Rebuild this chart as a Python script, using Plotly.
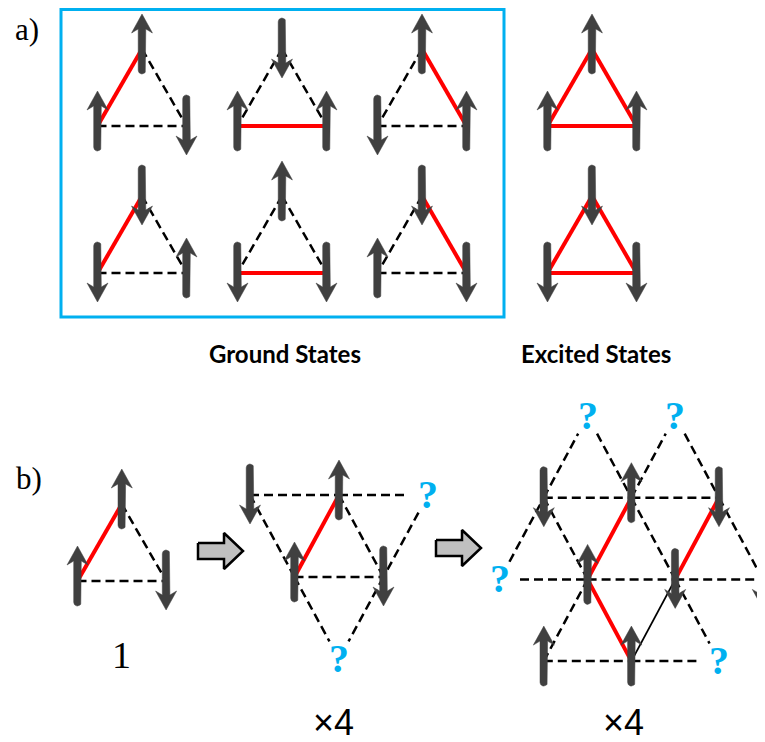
import math
import plotly.graph_objects as go

# ---------------- data ----------------
UP, DOWN, UNK = 1, -1, 0

# a) spins at [top, bottom-left, bottom-right] of each triangle
ground_row1 = [[UP, UP, DOWN], [DOWN, UP, UP], [UP, DOWN, UP]]
ground_row2 = [[DOWN, DOWN, UP], [UP, DOWN, DOWN], [DOWN, UP, DOWN]]
excited_spins = [[UP, UP, UP], [DOWN, DOWN, DOWN]]
triangle_sites = [(1, 0), (0, 1), (2, 1)]          # (half-column, row)
triangle_bonds = [(0, 1), (0, 2), (1, 2)]

# b) sites as (half-column, row, spin)
single_sites = [(1, 0, UP), (0, 1, UP), (2, 1, DOWN)]
single_bonds = [(0, 1), (0, 2), (1, 2)]

middle_sites = [(0, 0, DOWN), (2, 0, UP), (4, 0, UNK),
                (1, 1, UP), (3, 1, DOWN), (2, 2, UNK)]
middle_bonds = [(0, 1), (1, 2), (3, 4), (0, 3), (3, 5), (2, 4), (4, 5), (1, 3), (1, 4)]

lattice_sites = [(2, 0, UNK), (4, 0, UNK),
                 (1, 1, DOWN), (3, 1, UP), (5, 1, DOWN),
                 (0, 2, UNK), (2, 2, UP), (4, 2, DOWN), (6, 2, DOWN),
                 (1, 3, UP), (3, 3, UP), (5, 3, UNK)]
lattice_bonds = [(2, 3, "dash"), (3, 4, "dash"), (5, 6, "dash"), (6, 7, "dash"),
                 (7, 8, "dash"), (9, 10, "dash"), (10, 11, "dash"),
                 (5, 2, "dash"), (2, 0, "dash"), (9, 6, "dash"), (6, 3, "red"),
                 (3, 1, "dash"), (10, 7, "thin"), (7, 4, "red"),
                 (0, 3, "dash"), (3, 7, "dash"), (7, 11, "dash"), (2, 6, "dash"),
                 (6, 10, "red"), (1, 4, "dash"), (4, 8, "dash")]

panel_labels = ["a)", "b)"]
state_labels = ["Ground States", "Excited States"]
count_labels = ["1", "×4", "×4"]

# ---------------- layout helpers ----------------
ARROW_COLOR = "#404040"
BLUE = "#00b0f0"
PAGE_OFFSET = 8  # default body margin of the html page

segs = {"dash": ([], []), "red": ([], []), "thin": ([], [])}
arrow_x, arrow_y = [], []
qmarks = []


def bond_kind(s1, s2):
    return "red" if (s1 == s2 and s1 != UNK) else "dash"


def add_arrow(x, y, s):
    w, hw, hl, notch = 3.8, 10.5, 19.0, 4.0
    if s == UP:
        tip, tail, d = y - 35, y + 25, 1
    else:
        tip, tail, d = y + 29, y - 31, -1
    pts = [(x, tip), (x + hw, tip + d * hl), (x + w, tip + d * (hl - notch)),
           (x + w, tail - d * w)]
    cy = tail - d * w
    for i in range(1, 12):
        t = math.pi * i / 12
        pts.append((x + w * math.cos(t), cy + d * w * math.sin(t)))
    pts += [(x - w, tail - d * w), (x - w, tip + d * (hl - notch)),
            (x - hw, tip + d * hl), (x, tip)]
    for px, py in pts:
        arrow_x.append(px)
        arrow_y.append(py)
    arrow_x.append(None)
    arrow_y.append(None)


def draw_panel(sites, bonds, x0, y0, u, h):
    pos = [(x0 + c * u, y0 + r * h) for c, r, _ in sites]
    for b in bonds:
        i, j = b[0], b[1]
        kind = b[2] if len(b) > 2 else bond_kind(sites[i][2], sites[j][2])
        (xa, ya), (xb, yb) = pos[i], pos[j]
        L = math.hypot(xb - xa, yb - ya)
        ux, uy = (xb - xa) / L, (yb - ya) / L
        if sites[i][2] == UNK:
            xa, ya = xa + 20 * ux, ya + 20 * uy
        if sites[j][2] == UNK:
            xb, yb = xb - 20 * ux, yb - 20 * uy
        sx, sy = segs[kind]
        sx += [xa, xb, None]
        sy += [ya, yb, None]
    for (px, py), (_, _, s) in zip(pos, sites):
        if s == UNK:
            qmarks.append((px, py))
        else:
            add_arrow(px, py, s)


def triangle(spins, x0, y0):
    sites = [(c, r, s) for (c, r), s in zip(triangle_sites, spins)]
    draw_panel(sites, triangle_bonds, x0, y0, 44.5, 77)


col_x = [97.5, 237.5, 377.5]
for sp, x in zip(ground_row1, col_x):
    triangle(sp, x, 49)
for sp, x in zip(ground_row2, col_x):
    triangle(sp, x, 196)
triangle(excited_spins[0], 547.5, 49)
triangle(excited_spins[1], 547.5, 196)

draw_panel(single_sites, single_bonds, 77.5, 504, 44.3, 77)
draw_panel(middle_sites, middle_bonds, 250, 495, 44.5, 82)
draw_panel(lattice_sites, lattice_bonds, 500, 416, 43.8, 81.7)

fig = go.Figure()

fig.add_trace(go.Scatter(x=segs["dash"][0], y=segs["dash"][1], mode="lines",
                         line=dict(color="black", width=2.5, dash="9px,5px"),
                         hoverinfo="skip"))
fig.add_trace(go.Scatter(x=segs["thin"][0], y=segs["thin"][1], mode="lines",
                         line=dict(color="black", width=1.8), hoverinfo="skip"))
fig.add_trace(go.Scatter(x=segs["red"][0], y=segs["red"][1], mode="lines",
                         line=dict(color="#ff0000", width=4), hoverinfo="skip"))
fig.add_trace(go.Scatter(x=arrow_x, y=arrow_y, mode="lines", fill="toself",
                         fillcolor=ARROW_COLOR, line=dict(color=ARROW_COLOR, width=0.5),
                         hoverinfo="skip"))


# block arrows
def block_arrow(xs, xe, cy):
    hb = xe - 19
    px = [xs, hb, hb, xe, hb, hb, xs, xs]
    py = [cy - 8, cy - 8, cy - 18, cy, cy + 18, cy + 8, cy + 8, cy - 8]
    fig.add_trace(go.Scatter(x=px, y=py, mode="lines", fill="toself",
                             fillcolor="#c0c0c0", line=dict(color="black", width=2.5),
                             hoverinfo="skip"))


block_arrow(198, 243, 551)
block_arrow(436, 481, 548)

# blue box
fig.add_shape(type="rect", xref="x", yref="y", x0=61, y0=9.5, x1=504, y1=317,
              line=dict(color=BLUE, width=3))

annos = []
for (qx, qy) in qmarks:
    annos.append(dict(x=qx, y=qy - 1, text="<b>?</b>", showarrow=False,
                      font=dict(family="Liberation Serif", size=40, color=BLUE),
                      xanchor="center", yanchor="middle"))
serif = dict(family="Liberation Serif", color="black")
annos.append(dict(x=27, y=29, text=panel_labels[0], showarrow=False,
                  font=dict(size=31, **serif)))
annos.append(dict(x=29, y=478, text=panel_labels[1], showarrow=False,
                  font=dict(size=31, **serif)))
annos.append(dict(x=285, y=353, text="<b>" + state_labels[0] + "</b>", showarrow=False,
                  font=dict(family="Lato", size=24, color="black")))
annos.append(dict(x=596, y=353, text="<b>" + state_labels[1] + "</b>", showarrow=False,
                  font=dict(family="Lato", size=24, color="black")))
annos.append(dict(x=121, y=655, text=count_labels[0], showarrow=False,
                  font=dict(size=38, **serif)))
annos.append(dict(x=333, y=722, text=count_labels[1], showarrow=False,
                  font=dict(family="Liberation Sans", size=36, color="black")))
annos.append(dict(x=623, y=722, text=count_labels[2], showarrow=False,
                  font=dict(family="Liberation Sans", size=36, color="black")))
for a in annos:
    a["xref"] = "x"
    a["yref"] = "y"

fig.update_layout(
    width=765 - PAGE_OFFSET, height=742 - PAGE_OFFSET,
    margin=dict(l=0, r=0, t=0, b=0),
    paper_bgcolor="white", plot_bgcolor="white", showlegend=False,
    xaxis=dict(range=[PAGE_OFFSET, 765], visible=False, fixedrange=True),
    yaxis=dict(range=[742, PAGE_OFFSET], visible=False, fixedrange=True),
    annotations=annos,
)

fig.write_html("out.html")
